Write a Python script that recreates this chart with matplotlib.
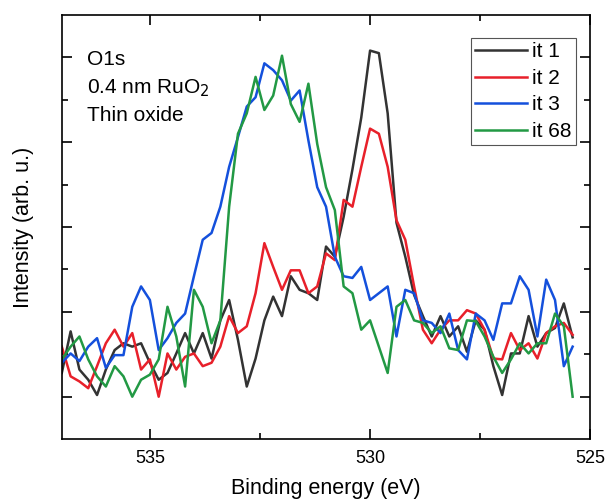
import numpy as np
import matplotlib.pyplot as plt
from matplotlib.ticker import FixedLocator, NullFormatter

plt.rcParams['font.family'] = ['Liberation Sans', 'DejaVu Sans']

# binding energy grid (eV), 0.2 eV steps
energy = np.round(np.arange(537.0, 525.3, -0.2), 1)

it1 = [0.28, 0.77, 0.32, 0.20, 0.02, 0.32, 0.55, 0.63, 0.59, 0.63,
       0.40, 0.20, 0.28, 0.51, 0.75, 0.51, 0.75, 0.45, 0.90, 1.14,
       0.67, 0.12, 0.45, 0.90, 1.18, 0.95, 1.42, 1.26, 1.22, 1.14,
       1.77, 1.65, 2.12, 2.68, 3.29, 4.08, 4.05, 3.34, 2.05, 1.65,
       1.20, 0.95, 0.71, 0.95, 0.71, 0.83, 0.53, 0.90, 0.79, 0.36,
       0.02, 0.51, 0.51, 0.95, 0.59, 0.75, 0.81, 1.10, 0.70]
it2 = [0.59, 0.24, 0.18, 0.10, 0.36, 0.63, 0.79, 0.59, 0.75, 0.32,
       0.44, 0.00, 0.51, 0.32, 0.47, 0.51, 0.36, 0.40, 0.59, 0.95,
       0.75, 0.83, 1.22, 1.81, 1.53, 1.26, 1.49, 1.49, 1.22, 1.30,
       1.69, 1.61, 2.32, 2.24, 2.71, 3.16, 3.10, 2.71, 2.08, 1.85,
       1.30, 0.79, 0.63, 0.79, 0.90, 0.90, 1.02, 0.98, 0.79, 0.45,
       0.44, 0.75, 0.55, 0.63, 0.45, 0.75, 0.83, 0.87, 0.73]
it3 = [0.40, 0.51, 0.42, 0.59, 0.69, 0.34, 0.49, 0.49, 1.06, 1.30,
       1.14, 0.55, 0.69, 0.87, 0.98, 1.42, 1.85, 1.93, 2.24, 2.71,
       3.06, 3.42, 3.53, 3.93, 3.85, 3.73, 3.49, 3.61, 3.02, 2.47,
       2.24, 1.65, 1.42, 1.40, 1.53, 1.14, 1.22, 1.30, 0.71, 1.26,
       1.22, 0.90, 0.87, 0.75, 0.98, 0.55, 0.44, 0.98, 0.90, 0.67,
       1.10, 1.10, 1.42, 1.26, 0.71, 1.38, 1.14, 0.36, 0.59]
it68 = [0.44, 0.59, 0.71, 0.44, 0.24, 0.12, 0.36, 0.24, 0.00, 0.20,
        0.26, 0.44, 1.06, 0.71, 0.12, 1.26, 1.06, 0.63, 0.90, 2.24,
        3.10, 3.34, 3.77, 3.38, 3.55, 4.02, 3.45, 3.24, 3.69, 2.98,
        2.47, 2.20, 1.30, 1.22, 0.79, 0.90, 0.59, 0.28, 1.06, 1.14,
        0.90, 0.87, 0.75, 0.83, 0.57, 0.55, 0.90, 0.89, 0.71, 0.47,
        0.28, 0.44, 0.63, 0.51, 0.63, 0.63, 0.98, 0.83, 0.00]

labels = ['it 1', 'it 2', 'it 3', 'it 68']
colors = ['#333333', '#e8202a', '#1450dc', '#229944']

fig = plt.figure(figsize=(6.06, 4.99), dpi=100)
ax = fig.add_axes([0.102, 0.12, 0.872, 0.85])

for y, lab, c in zip([it1, it2, it3, it68], labels, colors):
    ax.plot(energy, y, color=c, lw=1.8, label=lab)

ax.set_xlim(537, 525)
ax.set_ylim(-0.5, 4.5)

ax.set_xticks([535, 530, 525])
ax.xaxis.set_minor_locator(FixedLocator([532.5, 527.5]))
ax.set_yticks([0, 1, 2, 3, 4])
ax.yaxis.set_minor_locator(FixedLocator([0.5, 1.5, 2.5, 3.5]))
ax.yaxis.set_major_formatter(NullFormatter())
ax.tick_params(which='both', direction='in', top=True, right=True, width=1.2)
ax.tick_params(which='major', length=7, labelsize=13, pad=8)
ax.tick_params(which='minor', length=4)
for s in ax.spines.values():
    s.set_linewidth(1.2)

ax.set_xlabel('Binding energy (eV)', fontsize=15.5, labelpad=8)
ax.set_ylabel('Intensity (arb. u.)', fontsize=15.5, labelpad=12)

ax.text(0.047, 0.894, 'O1s', transform=ax.transAxes, fontsize=15, va='center')
ax.text(0.047, 0.828, '0.4 nm RuO$_2$', transform=ax.transAxes, fontsize=15, va='center')
ax.text(0.047, 0.762, 'Thin oxide', transform=ax.transAxes, fontsize=15, va='center')

leg = ax.legend(loc='upper right', bbox_to_anchor=(0.973, 0.945), fontsize=15,
                handlelength=2.5, handletextpad=0.25, labelspacing=0.36,
                borderpad=0.2, borderaxespad=0, fancybox=False, framealpha=1)
leg.get_frame().set_edgecolor('#555555')
leg.get_frame().set_linewidth(0.8)

fig.savefig('out.png', dpi=100)
